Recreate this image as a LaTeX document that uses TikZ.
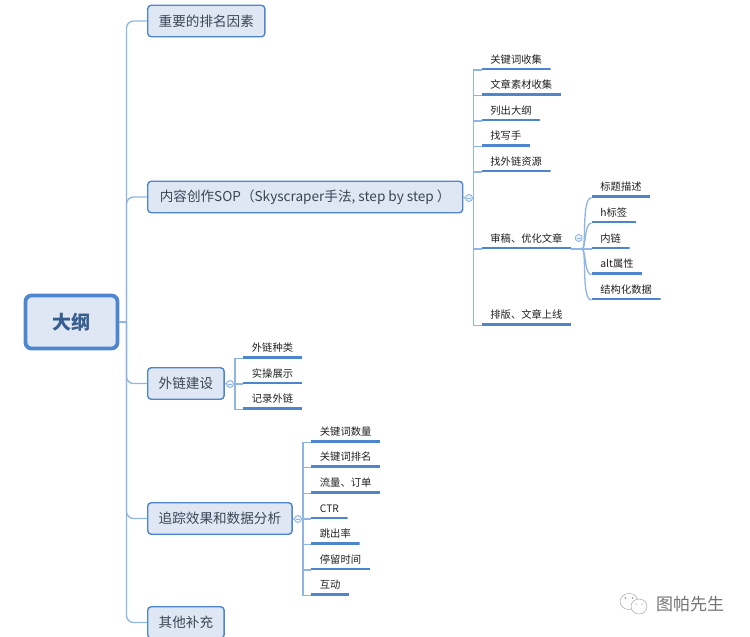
\documentclass[tikz,border=0pt]{standalone}
\usepackage{fontspec}
\setmainfont{Noto Sans CJK SC}
\definecolor{linkblue}{HTML}{8FB4E6}
\definecolor{edgeblue}{HTML}{4D86CC}
\definecolor{boxfill}{HTML}{DEE7F3}
\definecolor{inkdark}{HTML}{3A4656}
\tikzset{
  rootbox/.style = {
  shape = rectangle,
  rounded corners = 6pt,
  draw = edgeblue,
  fill = boxfill,
  line width = 3.8pt,
  minimum width = 92pt,
  minimum height = 53pt,
  text = edgeblue!70!black,
  font = \fontsize{19}{21}\selectfont\bfseries},
  branchbox/.style = {
  shape = rectangle,
  anchor = west,
  rounded corners = 3.5pt,
  draw = edgeblue,
  fill = boxfill,
  line width = 1.4pt,
  inner xsep = 11pt,
  inner ysep = 0pt,
  minimum height = 31.5pt,
  text = inkdark,
  font = \fontsize{13.6}{16}\selectfont},
  leaf/.style = {
  shape = rectangle,
  anchor = south west,
  inner xsep = 8.7pt,
  inner ysep = 5pt,
  text height = 8.5pt,
  text depth = 1.7pt,
  text = black!88,
  font = \fontsize{10.3}{12}\selectfont,
  path picture = {\draw[edgeblue, line width = 4.4pt]
    (path picture bounding box.south west) -- (path picture bounding box.south east);}},
  link/.style = {draw = linkblue, line width = 1.3pt},
  dot/.style = {
  shape = circle,
  draw = linkblue,
  fill = boxfill!50,
  line width = 0.9pt,
  inner sep = 0pt,
  minimum size = 7pt,
  path picture = {\draw[linkblue, line width = 0.8pt]
    ([xshift=1.5pt]path picture bounding box.west) -- ([xshift=-1.5pt]path picture bounding box.east);}},
  bubble/.style = {draw = black!35, line width = 0.5pt, fill = white}
}
\begin{document}
\begin{tikzpicture}[x=1pt, y=-1pt]
  \useasboundingbox (0,0) rectangle (750,637);

  % root and the trunk
  \node[rootbox] (root) at (71.5,322) {大纲};
  \coordinate (trunk) at (126.5,322);
  \node[branchbox] (rank) at (147,21) {重要的排名因素};
  \node[branchbox, minimum width=315pt] (sop) at (147,197) {内容创作SOP（Skyscraper手法, step by step\ ）};
  \node[branchbox] (links) at (147,383.5) {外链建设};
  \node[branchbox] (track) at (147,518.5) {追踪效果和数据分析};
  \node[branchbox] (other) at (147,622.5) {其他补充};
  \draw[link] (root.east) -- (trunk);
  \draw[link, rounded corners=7pt] (trunk) |- (rank.west);
  \draw[link, rounded corners=7pt] (trunk) |- (sop.west);
  \draw[link, rounded corners=7pt] (trunk) |- (links.west);
  \draw[link, rounded corners=7pt] (trunk) |- (track.west);
  \draw[link, rounded corners=7pt] (trunk) |- (other.west);

  % content branch
  \begin{scope}
    \node[dot] (sopdot) at (469,198) {};
    \coordinate (sopspine) at (473.5,198);
    \node[leaf] (S1) at (481.5,70) {关键词收集};
    \node[leaf] (S2) at (481.5,95.7) {文章素材收集};
    \node[leaf] (S3) at (481.5,121) {列出大纲};
    \node[leaf] (S4) at (481.5,146.7) {找写手};
    \node[leaf] (S5) at (481.5,172) {找外链资源};
    \node[leaf] (S6) at (481.5,249) {审稿、优化文章};
    \node[leaf] (S7) at (481.5,325.5) {排版、文章上线};
    \draw[link] (sop.east) -- (sopdot.west);
    \draw[link] (sopdot.east) -- (sopspine);
    \draw[link] (sopspine) |- (S1.south west);
    \draw[link] (sopspine) |- (S2.south west);
    \draw[link] (sopspine) |- (S3.south west);
    \draw[link] (sopspine) |- (S4.south west);
    \draw[link] (sopspine) |- (S5.south west);
    \draw[link] (sopspine) |- (S6.south west);
    \draw[link] (sopspine) |- (S7.south west);
  \end{scope}

  % audit sub-branch
  \begin{scope}
    \coordinate (auditfork) at (582,249);
    \node[leaf] (T1) at (591.5,197.7) {标题描述};
    \node[leaf] (T2) at (591.5,223) {h标签};
    \node[leaf] (T3) at (591.5,249) {内链};
    \node[leaf] (T4) at (591.5,274.7) {alt属性};
    \node[leaf] (T5) at (591.5,300) {结构化数据};
    \draw[link] (S6.south east) -- (T3.south west);
    \draw[link] (auditfork) .. controls (587,249) and (581,197.7) .. (T1.south west);
    \draw[link] (auditfork) .. controls (586,249) and (584,223) .. (T2.south west);
    \draw[link] (auditfork) .. controls (586,249) and (584,274.7) .. (T4.south west);
    \draw[link] (auditfork) .. controls (587,249) and (581,300) .. (T5.south west);
    \node[dot] (auditdot) at (578.7,238) {};
  \end{scope}

  % link building branch
  \begin{scope}
    \node[dot] (linkdot) at (230,384) {};
    \coordinate (linkspine) at (235,384);
    \node[leaf] (L1) at (243,358.3) {外链种类};
    \node[leaf] (L2) at (243,384) {实操展示};
    \node[leaf] (L3) at (243,409.5) {记录外链};
    \draw[link] (links.east) -- (linkdot.west);
    \draw[link] (linkdot.east) -- (L2.south west);
    \draw[link] (linkspine) |- (L1.south west);
    \draw[link] (linkspine) |- (L3.south west);
  \end{scope}

  % tracking branch
  \begin{scope}
    \node[dot] (trackdot) at (298,519) {};
    \coordinate (trackspine) at (303,519);
    \node[leaf] (D1) at (311,442.5) {关键词数量};
    \node[leaf] (D2) at (311,467.7) {关键词排名};
    \node[leaf] (D3) at (311,493.5) {流量、订单};
    \node[leaf] (D4) at (311,519) {CTR};
    \node[leaf] (D5) at (311,544.7) {跳出率};
    \node[leaf] (D6) at (311,570) {停留时间};
    \node[leaf] (D7) at (311,595.7) {互动};
    \draw[link] (track.east) -- (trackdot.west);
    \draw[link] (trackdot.east) -- (D4.south west);
    \draw[link] (trackspine) |- (D1.south west);
    \draw[link] (trackspine) |- (D2.south west);
    \draw[link] (trackspine) |- (D3.south west);
    \draw[link] (trackspine) |- (D5.south west);
    \draw[link] (trackspine) |- (D6.south west);
    \draw[link] (trackspine) |- (D7.south west);
  \end{scope}

  % watermark
  \begin{scope}
    \draw[bubble] (629,601.5) ellipse (9pt and 8pt);
    \fill[black!45] (625.5,598) circle (0.9pt);
    \fill[black!45] (632.5,598) circle (0.9pt);
    \draw[bubble] (639,606.5) ellipse (8pt and 7.5pt);
    \fill[black!45] (636,604) circle (0.7pt);
    \fill[black!45] (642,604) circle (0.7pt);
    \node[text=black!55, font=\fontsize{17}{19}\selectfont] (mark) at (690,604) {图帕先生};
  \end{scope}
\end{tikzpicture}
\end{document}
